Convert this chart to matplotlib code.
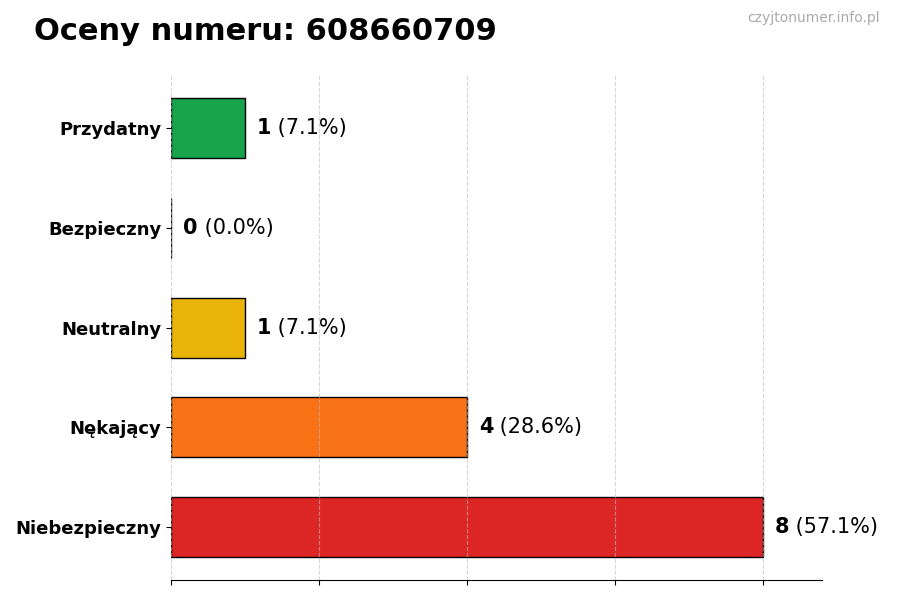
import matplotlib
matplotlib.use("Agg")
import matplotlib.pyplot as plt

# dane
categories = ["Niebezpieczny", "Nękający", "Neutralny", "Bezpieczny", "Przydatny"]
counts = [8, 4, 1, 0, 1]
colors = ["#dc2626", "#f97316", "#eab308", "#3b82f6", "#16a34a"]
number = "608660709"

total = sum(counts)

fig = plt.figure(figsize=(9, 6), dpi=100)
ax = fig.add_axes([0.19, 0.033, 0.723, 0.842])

ypos = list(range(len(categories)))
ax.barh(ypos, counts, height=0.6, color=colors, edgecolor="black", linewidth=1)

ax.set_xlim(0, max(counts) * 1.1)
ax.set_yticks(ypos)
ax.set_yticklabels(categories, fontsize=13, fontweight="bold")
ax.set_xticks([0, 2, 4, 6, 8])
ax.set_xticklabels([])
ax.xaxis.grid(True, linestyle="--", color="#bbbbbb", linewidth=0.8, alpha=0.6)
ax.set_axisbelow(False)

for side in ["top", "right", "left"]:
    ax.spines[side].set_visible(False)

for y, c in zip(ypos, counts):
    pct = c / total * 100
    t = ax.annotate(str(c), xy=(c, y), xytext=(12, 0), textcoords="offset pixels",
                    va="center", ha="left", fontsize=15, fontweight="bold")
    ax.annotate(" (%.1f%%)" % pct, xy=(1, 0.5), xycoords=t,
                va="center", ha="left", fontsize=15)

fig.text(0.038, 0.948, "Oceny numeru: " + number, fontsize=22, fontweight="bold",
         ha="left", va="center")
fig.text(0.978, 0.97, "czyjtonumer.info.pl", fontsize=10, color="#aaaaaa",
         ha="right", va="center")

fig.savefig("out.png")
